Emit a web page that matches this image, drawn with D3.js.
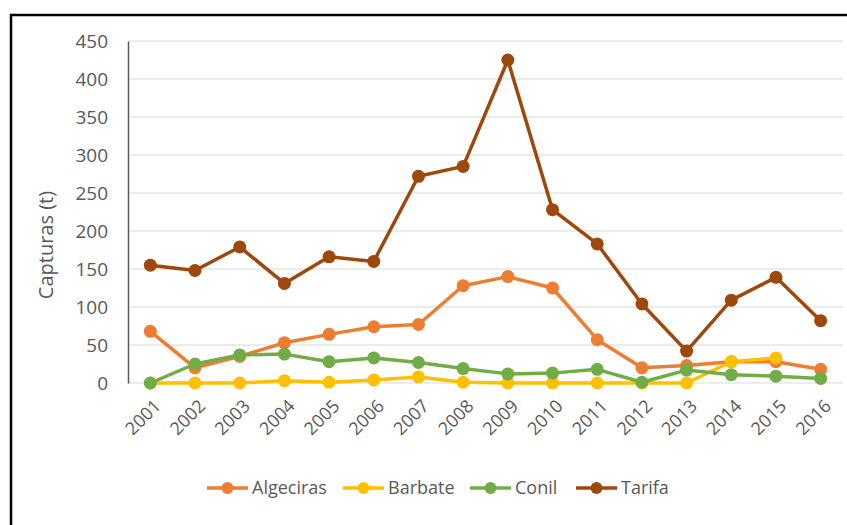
<!DOCTYPE html>
<html>
<head>
<meta charset="utf-8">
<script src="https://cdn.jsdelivr.net/npm/d3@7"></script>
<style>
  body { margin: 0; background: #fff; }
  text { font-family: "Open Sans", "Liberation Sans", sans-serif; fill: #595959; }
</style>
</head>
<body>
<div id="chart"></div>
<script>
// data
const years = ["2001","2002","2003","2004","2005","2006","2007","2008","2009","2010","2011","2012","2013","2014","2015","2016"];
const algeciras = [68, 20, 35, 53, 64, 74, 77, 128, 140, 125, 57, 20, 23, 28, 28, 18];
const barbate   = [0, 0, 0, 3, 1, 4, 8, 1, 0, 0, 0, 0, 0, 28, 33, null];
const conil     = [0, 25, 37, 38, 28, 33, 27, 19, 12, 13, 18, 1, 17, 11, 9, 6];
const tarifa    = [155, 148, 179, 131, 166, 160, 272, 285, 425, 228, 183, 104, 42, 109, 139, 82];
const yTicks = [0, 50, 100, 150, 200, 250, 300, 350, 400, 450];

const series = [
  { name: "Algeciras", values: algeciras, color: "#ED7D31" },
  { name: "Barbate",   values: barbate,   color: "#FFC000" },
  { name: "Conil",     values: conil,     color: "#70AD47" },
  { name: "Tarifa",    values: tarifa,    color: "#9E480E" }
];

const svg = d3.select("#chart").append("svg")
    .attr("width", 847)
    .attr("height", 525);

// black frame (only top and left show in the picture)
svg.append("path")
    .attr("d", "M11,528 L11,15 L850,15")
    .attr("fill", "none")
    .attr("stroke", "#000")
    .attr("stroke-width", 2.5);

const x = d3.scalePoint().domain(years).range([128, 843]).padding(0.5);
const y = d3.scaleLinear().domain([0, 450]).range([383, 41]);

// gridlines
svg.append("g")
  .selectAll("line")
  .data(yTicks)
  .join("line")
    .attr("x1", 128).attr("x2", 843)
    .attr("y1", d => y(d)).attr("y2", d => y(d))
    .attr("stroke", "#d9d9d9")
    .attr("stroke-width", 1.2);

// y axis
const yAxis = svg.append("g")
    .attr("transform", "translate(128,0)")
    .call(d3.axisLeft(y).tickValues(yTicks).tickSize(0).tickPadding(20));
yAxis.select(".domain").attr("stroke", "#595959").attr("stroke-width", 1.5);
yAxis.selectAll("text").style("font-size", "19px").attr("fill", "#595959");

// x axis
const xAxis = svg.append("g")
    .attr("transform", "translate(0,383)")
    .call(d3.axisBottom(x).tickSize(0));
xAxis.select(".domain").remove();
xAxis.selectAll("text")
    .style("font-size", "18px")
    .attr("fill", "#595959")
    .attr("text-anchor", "end")
    .attr("dy", 0)
    .attr("transform", "translate(9,22) rotate(-45)");

// y title
svg.append("text")
    .attr("transform", "translate(53,245) rotate(-90)")
    .attr("text-anchor", "middle")
    .style("font-size", "20px")
    .text("Capturas (t)");

// lines + markers
const line = d3.line()
    .defined(d => d.v !== null)
    .x(d => x(d.year))
    .y(d => y(d.v));

series.forEach(s => {
  const pts = years.map((yr, i) => ({ year: yr, v: s.values[i] }));
  svg.append("path")
      .datum(pts)
      .attr("fill", "none")
      .attr("stroke", s.color)
      .attr("stroke-width", 3.5)
      .attr("stroke-linejoin", "round")
      .attr("d", line);
  svg.append("g")
    .selectAll("circle")
    .data(pts.filter(d => d.v !== null))
    .join("circle")
      .attr("cx", d => x(d.year))
      .attr("cy", d => y(d.v))
      .attr("r", 6.5)
      .attr("fill", s.color);
});

// legend
const legendX = [207, 343, 470, 576];
const legend = svg.append("g")
  .selectAll("g")
  .data(series)
  .join("g")
    .attr("transform", (d, i) => `translate(${legendX[i]},488)`);
legend.append("line")
    .attr("x1", 0).attr("x2", 41)
    .attr("stroke", d => d.color)
    .attr("stroke-width", 3.5);
legend.append("circle")
    .attr("cx", 20.5).attr("r", 6)
    .attr("fill", d => d.color);
legend.append("text")
    .attr("x", 45)
    .attr("dy", "0.35em")
    .style("font-size", "18px")
    .text(d => d.name);
</script>
</body>
</html>
